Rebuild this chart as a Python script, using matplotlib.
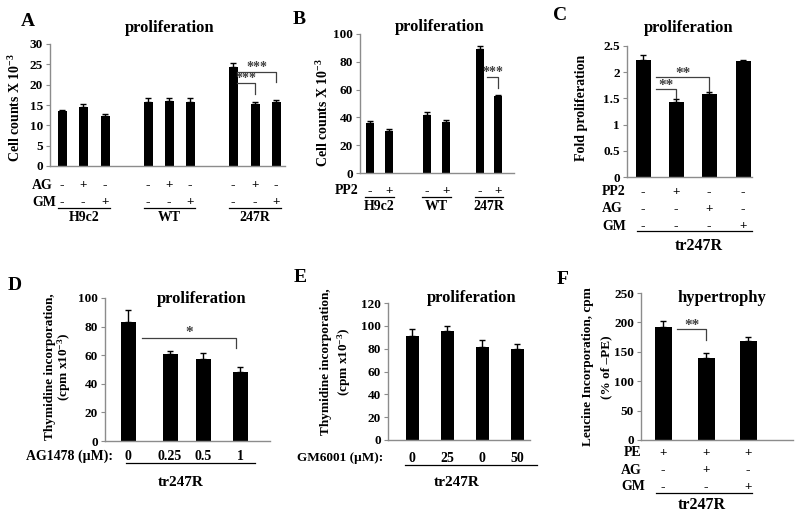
import numpy as np
import matplotlib
matplotlib.use('Agg')
import matplotlib.pyplot as plt
from matplotlib.ticker import FormatStrFormatter
from matplotlib.transforms import blended_transform_factory

# ==================== Data ====================
# A: cell counts x 10^-3
A_groups = ["H9c2", "WT", "247R"]
A_ag = ["-", "+", "-", "-", "+", "-", "-", "+", "-"]
A_gm = ["-", "-", "+", "-", "-", "+", "-", "-", "+"]
A_vals = [13.6, 14.4, 12.4, 15.8, 16.0, 15.8, 24.4, 15.2, 15.8]
A_errs = [0.2, 0.8, 0.5, 0.8, 0.6, 0.9, 1.0, 0.5, 0.4]

# B: cell counts x 10^-3, PP2
B_groups = ["H9c2", "WT", "247R"]
B_pp2 = ["-", "+", "-", "+", "-", "+"]
B_vals = [35.7, 30.4, 41.7, 36.5, 89.0, 55.4]
B_errs = [1.8, 1.0, 2.4, 1.6, 2.4, 0.8]

# C: fold proliferation
C_pp2 = ["-", "+", "-", "-"]
C_ag = ["-", "-", "+", "-"]
C_gm = ["-", "-", "-", "+"]
C_vals = [2.24, 1.44, 1.58, 2.22]
C_errs = [0.09, 0.04, 0.04, 0.01]

# D: thymidine incorporation, AG1478
D_doses = ["0", "0.25", "0.5", "1"]
D_vals = [83.4, 60.8, 57.0, 48.0]
D_errs = [8.2, 2.3, 4.6, 3.5]

# E: thymidine incorporation, GM6001
E_doses = ["0", "25", "0", "50"]
E_vals = [91.0, 95.7, 81.7, 79.4]
E_errs = [6.0, 4.3, 6.3, 4.4]

# F: leucine incorporation
F_pe = ["+", "+", "+"]
F_ag = ["-", "+", "-"]
F_gm = ["-", "-", "+"]
F_vals = [191.6, 139.0, 168.4]
F_errs = [11.4, 9.5, 7.3]

# ==================== Style ====================
W, H = 800, 518
SERIF = 'Liberation Serif'
plt.rcParams['font.family'] = [SERIF, 'DejaVu Serif']
plt.rcParams['font.weight'] = 'bold'
plt.rcParams['mathtext.fontset'] = 'custom'
plt.rcParams['mathtext.rm'] = 'Liberation Serif:bold'
plt.rcParams['mathtext.it'] = 'Liberation Serif:italic:bold'
plt.rcParams['mathtext.bf'] = 'Liberation Serif:bold'
SPINE = '#8c8c8c'
BRK = '#404040'
TITLE_FS = 12
TICK_FS = 9.5

fig = plt.figure(figsize=(W / 100, H / 100), dpi=100)
fig.patch.set_facecolor('white')


def fx(x):
    return x / W


def fy(y):
    return 1 - y / H


def add_panel(x0, y0, x1, y1, ymax, ystep, fmt='%g'):
    # axes placed by pixel box, x data in pixel units too
    ax = fig.add_axes([fx(x0), fy(y1), (x1 - x0) / W, (y1 - y0) / H])
    ax.set_xlim(x0, x1)
    ax.set_ylim(0, ymax)
    ax.set_yticks(np.arange(0, ymax + ystep / 2, ystep))
    ax.yaxis.set_major_formatter(FormatStrFormatter(fmt))
    for s in ('top', 'right'):
        ax.spines[s].set_visible(False)
    for s in ('left', 'bottom'):
        ax.spines[s].set_color(SPINE)
        ax.spines[s].set_linewidth(1.0)
    ax.tick_params(axis='y', direction='out', length=3, color=SPINE,
                   labelsize=TICK_FS, pad=2)
    ax.tick_params(axis='x', length=0, labelbottom=False)
    for lb in ax.get_yticklabels():
        lb.set_fontweight('bold')
    ax.patch.set_alpha(0)
    return ax


def bars(ax, xs, vals, errs, width):
    ax.bar(xs, vals, width=width, color='black', zorder=2)
    ax.errorbar(xs, vals, yerr=[np.zeros(len(errs)), errs], fmt='none',
                ecolor='black', elinewidth=1, capsize=2.5, capthick=1,
                zorder=3)


def bracket(ax, xa, xb, y, ydrop, stars, ystar, fs=10):
    ax.plot([xa, xb, xb], [y, y, ydrop], color=BRK, lw=0.9,
            clip_on=False, zorder=4)
    ax.text((xa + xb) / 2, ystar, stars, ha='center', va='center',
            fontsize=fs, color=BRK, clip_on=False)


def row(ax, xs, signs, ypx, fs=9.5):
    tr = blended_transform_factory(ax.transData, fig.transFigure)
    for x, s in zip(xs, signs):
        ax.text(x, fy(ypx), s, transform=tr, ha='center', va='center',
                fontsize=fs, fontweight='bold')


def underline(ax, xa, xb, ypx):
    tr = blended_transform_factory(ax.transData, fig.transFigure)
    ax.plot([xa, xb], [fy(ypx), fy(ypx)], color='black', lw=0.9,
            transform=tr, clip_on=False)


def ftext(x, y, s, fs=9, **kw):
    kw.setdefault('ha', 'center')
    kw.setdefault('va', 'center')
    fig.text(fx(x), fy(y), s, fontsize=fs, fontweight='bold', **kw)


# ==================== Panel A ====================
axA = add_panel(50, 44, 285, 166, 30, 5)
A_x = [62, 83, 105, 148, 169, 190, 233, 255, 276]
bars(axA, A_x, A_vals, A_errs, 9)
bracket(axA, 237, 255, 20.4, 17.8, '***', 21.6)
bracket(axA, 237, 276, 23.1, 20.6, '***', 24.3)
row(axA, A_x, A_ag, 185)
row(axA, A_x, A_gm, 202)
for g, name in enumerate(A_groups):
    xa, xb = A_x[3 * g] - 4, A_x[3 * g + 2] + 5
    underline(axA, xa, xb, 208)
    ftext((xa + xb) / 2, 211, name, fs=10, va='top')
ftext(32, 185, 'AG', fs=10, ha='left')
ftext(32, 202, 'GM', fs=10, ha='left')
ftext(170, 28, 'proliferation', fs=TITLE_FS)
ftext(15, 108, 'Cell counts X 10$^{-3}$', fs=10, rotation=90)
ftext(28, 21, 'A', fs=14)

# ==================== Panel B ====================
axB = add_panel(360, 34, 514, 173, 100, 20)
B_x = [370, 389, 427, 446, 480, 498]
bars(axB, B_x, B_vals, B_errs, 7.5)
bracket(axB, 487, 498, 68.8, 61.0, '***', 72.5)
row(axB, B_x, B_pp2, 191)
for g, name in enumerate(B_groups):
    xa, xb = B_x[2 * g] - 5, B_x[2 * g + 1] + 5
    underline(axB, xa, xb, 197)
    ftext((xa + xb) / 2, 200, name, fs=10, va='top')
ftext(335, 191, 'PP2', fs=10, ha='left')
ftext(440, 27, 'proliferation', fs=TITLE_FS)
ftext(323, 113, 'Cell counts X 10$^{-3}$', fs=10, rotation=90)
ftext(299, 20, 'B', fs=14)

# ==================== Panel C ====================
axC = add_panel(627, 46, 752, 177, 2.5, 0.5)
C_x = [643, 676, 709, 743]
bars(axC, C_x, C_vals, C_errs, 15)
bracket(axC, 656, 676, 1.67, 1.50, '**', 1.74, fs=11)
bracket(axC, 656, 709, 1.90, 1.65, '**', 1.97, fs=11)
row(axC, C_x, C_pp2, 192)
row(axC, C_x, C_ag, 209)
row(axC, C_x, C_gm, 226)
underline(axC, 637, 752, 231)
ftext(699, 246, 'tr247R', fs=11.5)
ftext(602, 192, 'PP2', fs=10, ha='left')
ftext(602, 209, 'AG', fs=10, ha='left')
ftext(602, 226, 'GM', fs=10, ha='left')
ftext(689, 28, 'proliferation', fs=TITLE_FS)
ftext(582, 108, 'Fold proliferation', fs=10, rotation=90)
ftext(560, 16, 'C', fs=14)

# ==================== Panel D ====================
axD = add_panel(105, 298, 270, 441, 100, 20)
D_x = [128, 170, 203, 240]
bars(axD, D_x, D_vals, D_errs, 15)
bracket(axD, 142, 236, 71.8, 64.8, '*', 76.0, fs=11)
row(axD, D_x, D_doses, 456, fs=10)
underline(axD, 126, 255, 463)
ftext(113, 456, 'AG1478 (\u00b5M):', fs=10, ha='right')
ftext(181, 482, 'tr247R', fs=11)
ftext(202, 299, 'proliferation', fs=TITLE_FS)
ftext(50, 367, 'Thymidine incorporation,', fs=9.5, rotation=90)
ftext(64, 367, '(cpm x10$^{-3}$)', fs=9.5, rotation=90)
ftext(15, 286, 'D', fs=14)

# ==================== Panel E ====================
axE = add_panel(388, 303, 530, 440, 120, 20)
E_x = [412, 447, 482, 517]
bars(axE, E_x, E_vals, E_errs, 13)
row(axE, E_x, E_doses, 458, fs=10)
underline(axE, 405, 537, 465)
ftext(383, 458, 'GM6001 (\u00b5M):', fs=9.5, ha='right')
ftext(457, 482, 'tr247R', fs=11)
ftext(472, 298, 'proliferation', fs=TITLE_FS)
ftext(326, 362, 'Thymidine incorporation,', fs=9.5, rotation=90)
ftext(344, 362, '(cpm x10$^{-3}$)', fs=9.5, rotation=90)
ftext(300, 278, 'E', fs=14)

# ==================== Panel F ====================
axF = add_panel(641, 293, 793, 440, 250, 50)
F_x = [663, 706, 748]
bars(axF, F_x, F_vals, F_errs, 17)
bracket(axF, 677, 706, 188, 170, '**', 195, fs=11)
row(axF, F_x, F_pe, 453)
row(axF, F_x, F_ag, 470)
row(axF, F_x, F_gm, 487)
underline(axF, 656, 752, 493)
ftext(702, 505, 'tr247R', fs=11.5)
ftext(624, 453, 'PE', fs=10, ha='left')
ftext(621, 470, 'AG', fs=10, ha='left')
ftext(621, 487, 'GM', fs=10, ha='left')
ftext(722, 298, 'hypertrophy', fs=TITLE_FS)
ftext(588, 367, 'Leucine Incorporation, cpm', fs=9.5, rotation=90)
ftext(606, 367, '(% of \u2013PE)', fs=9.5, rotation=90)
ftext(563, 279, 'F', fs=14)

fig.savefig('out.png', dpi=100)
